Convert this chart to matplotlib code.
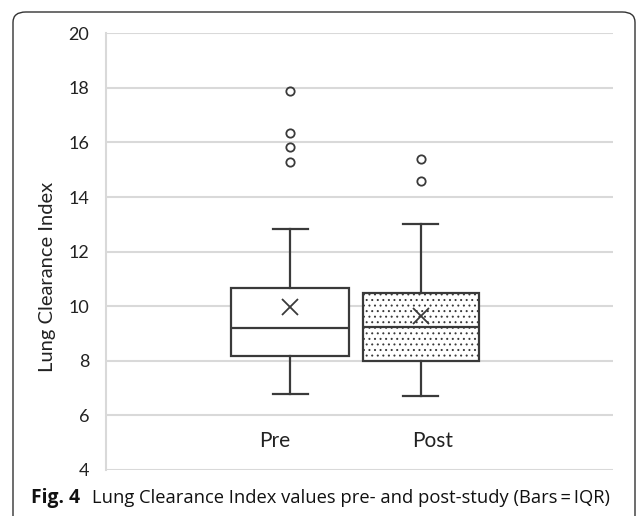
import matplotlib.pyplot as plt
from matplotlib.patches import FancyBboxPatch

categories = ["Pre", "Post"]
whislo = [6.8, 6.7]
q1 = [8.18, 8.0]
med = [9.2, 9.25]
q3 = [10.68, 10.48]
whishi = [12.83, 13.02]
means = [9.99, 9.64]
fliers = [[17.89, 16.33, 15.83, 15.27], [15.4, 14.6]]

plt.rcParams["hatch.linewidth"] = 0.7
plt.rcParams["hatch.color"] = "#444444"

W, H = 637, 516
fig = plt.figure(figsize=(W / 100, H / 100), dpi=100)
ax = fig.add_axes([106 / W, 1 - 470 / H, 507 / W, 436.7 / H])

stats = []
for i, name in enumerate(categories):
    stats.append(
        {
            "label": name,
            "whislo": whislo[i],
            "q1": q1[i],
            "med": med[i],
            "q3": q3[i],
            "whishi": whishi[i],
            "mean": means[i],
            "fliers": fliers[i],
        }
    )

edge = "#3a3a3a"
lw = 1.6
res = ax.bxp(
    stats,
    positions=[0.363, 0.621],
    widths=[0.233, 0.229],
    capwidths=[0.069, 0.069],
    showmeans=True,
    patch_artist=True,
    boxprops=dict(edgecolor=edge, linewidth=lw, facecolor="white"),
    medianprops=dict(color=edge, linewidth=lw),
    whiskerprops=dict(color=edge, linewidth=lw),
    capprops=dict(color=edge, linewidth=lw),
    meanprops=dict(marker="x", markersize=11, markeredgecolor=edge,
                   markeredgewidth=1.3),
    flierprops=dict(marker="o", markersize=6, markerfacecolor="none",
                    markeredgecolor=edge, markeredgewidth=1.3),
    zorder=3,
)
res["boxes"][1].set_hatch("...")

ax.set_xlim(0, 1)
ax.set_ylim(4, 20)
ax.set_yticks(range(4, 21, 2))
ax.set_xticks([])
ax.grid(axis="y", color="#d9d9d9", linewidth=1.5, zorder=0)
ax.set_axisbelow(True)
for s in ["top", "right", "bottom"]:
    ax.spines[s].set_visible(False)
ax.spines["left"].set_color("#d9d9d9")
ax.spines["left"].set_linewidth(1.5)
ax.tick_params(axis="y", length=0, pad=12, labelsize=13, labelcolor="#222222")
for t in ax.get_yticklabels():
    t.set_family("Lato")

for xpos, name in zip([0.333, 0.645], categories):
    ax.text(xpos, 5.05, name, ha="center", va="center", fontsize=15,
            family="Lato", color="#222222")

fig.text(48 / W, 1 - 277 / H, "Lung Clearance Index", rotation=90,
         ha="center", va="center", fontsize=14.5, family="Lato",
         color="#222222")

border = FancyBboxPatch((13 / W, -0.1), 622 / W, 1.1 - 12 / H,
                        boxstyle="round,pad=0,rounding_size=0.02",
                        transform=fig.transFigure, facecolor="none",
                        edgecolor="#333333", linewidth=1.0)
fig.patches.append(border)

# caption: bold label then plain text, each sized to its width in the picture
renderer = fig.canvas.get_renderer()


def fit_text(x0, x1, s, **kw):
    t = fig.text(x0 / W, 1 - 498 / H, s, ha="left", va="center",
                 fontsize=12, family="Open Sans", color="#111111", **kw)
    width = t.get_window_extent(renderer).width
    t.set_fontsize(12 * (x1 - x0) / width)
    return t


fit_text(31, 80, "Fig. 4", weight="bold")
fit_text(92, 606, "Lung Clearance Index values pre- and post-study (Bars\u2009=\u2009IQR)")

fig.savefig("out.png", dpi=100)
